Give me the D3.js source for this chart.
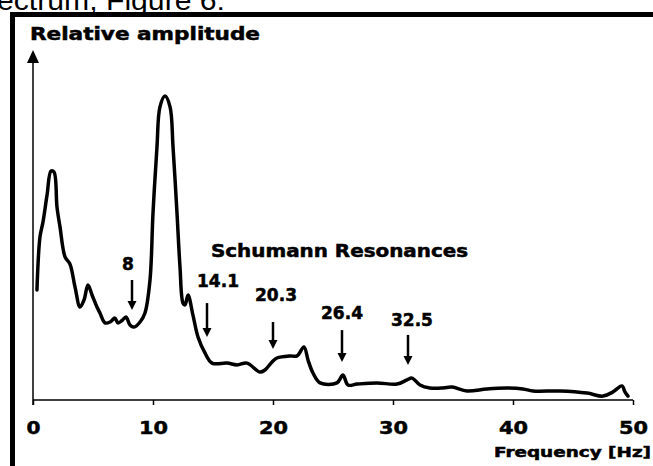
<!DOCTYPE html>
<html>
<head>
<meta charset="utf-8">
<script src="https://cdn.jsdelivr.net/npm/d3@7"></script>
<style>
  html, body { margin: 0; padding: 0; background: #fff; }
  svg { display: block; }
  text.bold { font-family: "DejaVu Sans", sans-serif; font-weight: bold; fill: #000; stroke: #000; stroke-width: 0.5px; }
</style>
</head>
<body>
<div id="chart"></div>
<script>
// spectrum: frequency (Hz) and relative amplitude
var freq = [0.33, 0.58, 0.83, 1.17, 1.5, 1.75, 2.0, 2.25, 2.67, 3.08, 3.5, 3.92, 4.25, 4.58, 4.92,
            5.33, 5.58, 6.0, 6.42, 6.83, 7.08, 7.42, 7.75, 8.08, 8.42, 8.92, 9.33, 9.75, 10.0, 10.33,
            10.58, 11.0, 11.42, 11.67, 12.0, 12.25, 12.5, 12.67, 12.92, 13.33, 13.75, 14.33, 14.92, 16.17,
            17.0, 17.83, 18.92, 19.33, 19.92, 20.33, 21.42, 22.0, 22.58, 22.92, 23.33, 23.92, 25.33,
            25.83, 26.25, 27.0, 28.67, 30.33, 31.17, 31.58, 32.25, 33.08, 34.17, 34.92, 36.17, 37.83,
            39.5, 40.83, 41.67, 43.92, 46.17, 47.5, 48.33, 49.08, 49.33, 49.58];
var amp  = [36.7, 54.3, 59.3, 68.3, 76.3, 76.0, 64.3, 57.7, 47.7, 45.3, 37.7, 31.0, 33.3, 38.3, 35.0,
            31.0, 29.0, 25.7, 26.0, 27.3, 25.7, 26.5, 27.7, 25.0, 24.3, 26.0, 29.0, 40.0, 62.3, 84.3,
            97.7, 101.3, 97.7, 84.3, 62.3, 44.3, 32.3, 31.7, 35.0, 28.3, 21.0, 15.7, 12.3, 12.3,
            11.7, 12.3, 9.3, 10.0, 12.7, 14.0, 14.7, 14.7, 17.7, 13.3, 9.0, 5.7, 5.7,
            8.3, 5.0, 5.3, 5.7, 5.3, 6.7, 7.3, 5.0, 4.0, 4.0, 4.3, 3.0, 3.7,
            4.0, 3.7, 3.0, 3.0, 2.3, 1.3, 2.7, 4.7, 2.7, 1.3];

var xTicks = [0, 10, 20, 30, 40, 50];

// Schumann resonance annotations
var resLabels = ["8", "14.1", "20.3", "26.4", "32.5"];
var resLabelAt = [7.92, 15.42, 20.25, 25.75, 31.58];   // label centre (Hz)
var resLabelAmp = [43.3, 37.7, 33.0, 27.0, 24.7];      // label baseline (amplitude)
var resArrowAt = [8.25, 14.5, 20.0, 25.75, 31.25];     // arrow position (Hz)
var resArrowTop = [40.0, 32.3, 26.0, 23.3, 21.7];      // arrow tail (amplitude)
var resArrowTip = [30.0, 21.0, 17.0, 12.7, 11.7];      // arrow tip (amplitude)

var width = 653, height = 466;
var x = d3.scaleLinear().domain([0, 50]).range([33, 633]);
var y = d3.scaleLinear().domain([0, 100]).range([400, 100]);

var svg = d3.select("#chart").append("svg")
    .attr("width", width)
    .attr("height", height);

// caption fragment cut at the top of the page
svg.append("text")
    .attr("x", -3).attr("y", 10)
    .attr("textLength", 228).attr("lengthAdjust", "spacingAndGlyphs")
    .style("font-family", "'Liberation Sans', Arial, sans-serif")
    .style("font-size", "27px")
    .text("ectrum, Figure 6:");

// thick frame (top and left)
svg.append("rect").attr("x", 10).attr("y", 12).attr("width", width - 10).attr("height", 5).attr("fill", "#000");
svg.append("rect").attr("x", 10).attr("y", 12).attr("width", 5).attr("height", height - 12).attr("fill", "#000");

// y axis with arrow
svg.append("line")
    .attr("x1", x(0)).attr("x2", x(0))
    .attr("y1", y(0) + 5).attr("y2", 60)
    .attr("stroke", "#000").attr("stroke-width", 1.5);
svg.append("path")
    .attr("d", "M" + x(0) + ",50 L" + (x(0) - 6) + ",63 L" + (x(0) + 6) + ",63 Z")
    .attr("fill", "#000");

svg.append("text").attr("class", "bold")
    .attr("x", 30).attr("y", 40)
    .attr("textLength", 230).attr("lengthAdjust", "spacingAndGlyphs")
    .style("font-size", "17px")
    .text("Relative amplitude");

// x axis
var xAxis = d3.axisBottom(x).tickValues(xTicks).tickSize(5).tickPadding(14).tickFormat(d3.format("d"));
var gx = svg.append("g")
    .attr("transform", "translate(0," + y(0) + ")")
    .call(xAxis);
gx.select(".domain").attr("stroke-width", 1.5).attr("d", "M" + x(0) + ",0H" + x(50));
gx.selectAll(".tick line").attr("stroke-width", 1.5);
gx.selectAll(".tick text")
    .attr("class", "bold")
    .attr("y", 34).attr("dy", 0)
    .style("font-size", "18px")
    .attr("textLength", function(d) { return String(d).length > 1 ? 29 : 14; })
    .attr("lengthAdjust", "spacingAndGlyphs");

svg.append("text").attr("class", "bold")
    .attr("x", 651).attr("y", 457)
    .attr("text-anchor", "end")
    .attr("textLength", 157).attr("lengthAdjust", "spacingAndGlyphs")
    .style("font-size", "14px")
    .text("Frequency [Hz]");

// spectrum curve
var pts = freq.map(function(f, i) { return [f, amp[i]]; });
var line = d3.line()
    .x(function(d) { return x(d[0]); })
    .y(function(d) { return y(d[1]); })
    .curve(d3.curveCatmullRom.alpha(0.5));

svg.append("path")
    .datum(pts)
    .attr("d", line)
    .attr("fill", "none")
    .attr("stroke", "#000")
    .attr("stroke-width", 3.5)
    .attr("stroke-linejoin", "round")
    .attr("stroke-linecap", "round");

// annotations
svg.append("text").attr("class", "bold")
    .attr("x", 211).attr("y", 257)
    .attr("textLength", 257).attr("lengthAdjust", "spacingAndGlyphs")
    .style("font-size", "17px")
    .text("Schumann Resonances");

resLabels.forEach(function(lbl, i) {
  var t = svg.append("text").attr("class", "bold")
      .attr("x", x(resLabelAt[i])).attr("y", y(resLabelAmp[i]))
      .attr("text-anchor", "middle")
      .style("font-size", "17px")
      .text(lbl);
  if (lbl.length > 1) t.attr("textLength", 42).attr("lengthAdjust", "spacingAndGlyphs");

  var ax = x(resArrowAt[i]), tip = y(resArrowTip[i]);
  svg.append("line")
      .attr("x1", ax).attr("x2", ax)
      .attr("y1", y(resArrowTop[i])).attr("y2", tip - 6)
      .attr("stroke", "#000").attr("stroke-width", 2.5);
  svg.append("path")
      .attr("d", "M" + ax + "," + tip + " L" + (ax - 4.5) + "," + (tip - 9) + " L" + (ax + 4.5) + "," + (tip - 9) + " Z")
      .attr("fill", "#000");
});
</script>
</body>
</html>
